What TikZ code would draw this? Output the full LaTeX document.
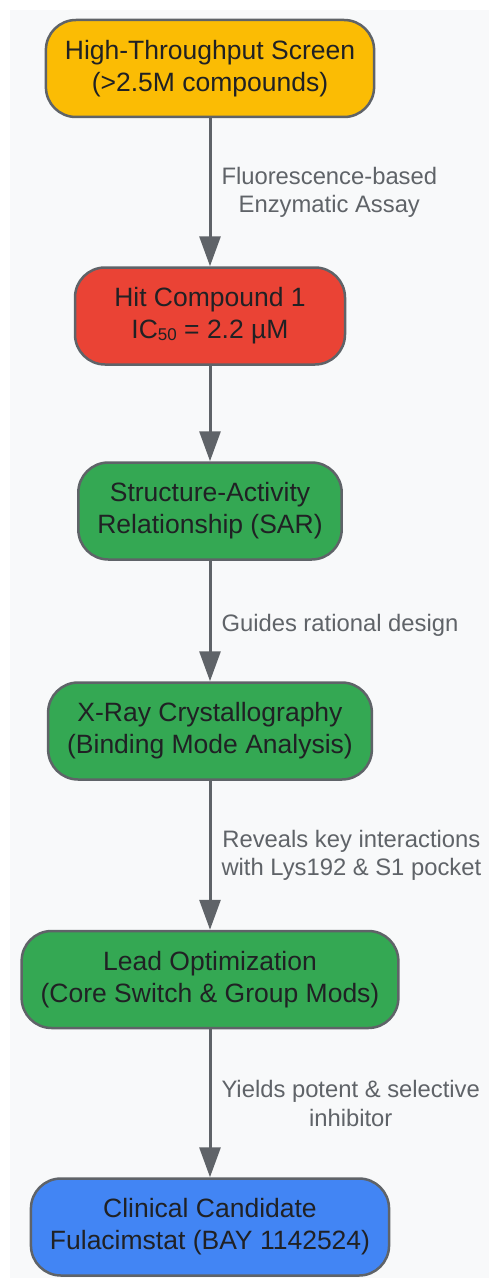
\documentclass[tikz,border=0pt]{standalone}
\usepackage{fontspec}
\setmainfont{Liberation Sans}
\usetikzlibrary{arrows.meta}

\definecolor{sheet}{HTML}{F8F9FA}
\definecolor{edge grey}{HTML}{5F6368}
\definecolor{ink}{HTML}{202124}
\definecolor{screen yellow}{HTML}{FBBC04}
\definecolor{hit red}{HTML}{EA4335}
\definecolor{design green}{HTML}{34A853}
\definecolor{candidate blue}{HTML}{4285F4}

\tikzset{stage/.style={draw=edge grey, line width=2.5pt, rounded corners=30pt,
        minimum height=97pt, inner xsep=19pt, inner ysep=0pt, align=center,
        text=ink, font=\fontsize{26.5}{32}\selectfont,
        execute at begin node={\rule{0pt}{30pt}}},
    screen stage/.style={stage, fill=screen yellow},
    hit stage/.style={stage, fill=hit red, minimum width=270pt},
    design stage/.style={stage, fill=design green},
    candidate stage/.style={stage, fill=candidate blue},
    flow arrow/.style={draw=edge grey, line width=3pt,
        -{Triangle[length=30pt, width=21pt, fill=edge grey]}},
    arrow label/.style={anchor=west, xshift=10pt, inner sep=0pt, align=center,
        text=edge grey, font=\fontsize{23.8}{28.5}\selectfont,
        execute at begin node={\rule{0pt}{26pt}}},
}

\begin{document}
\begin{tikzpicture}[x=1pt, y=-1pt]

	% page and sheet
	\useasboundingbox (0, 0) rectangle (489, 1279);
	\fill[sheet] (10, 10) rectangle (489, 1278);

	% stages
	\node[screen stage] (screen) at (210, 68.5) {High-Throughput Screen\\(>2.5M compounds)};
	\node[hit stage] (hit) at (210, 316) {Hit Compound 1\\IC\raisebox{-0.15ex}{\fontsize{17}{17}\selectfont 50} = 2.2 µM};
	\node[design stage] (sar) at (210, 511) {Structure-Activity\\Relationship (SAR)};
	\node[design stage] (xray) at (210, 731) {X-Ray Crystallography\\(Binding Mode Analysis)};
	\node[design stage] (lead) at (210, 979.5) {Lead Optimization\\(Core Switch \& Group Mods)};
	\node[candidate stage] (candidate) at (210, 1227) {Clinical Candidate\\Fulacimstat (BAY 1142524)};

	% connectors
	\draw[flow arrow] (screen) -- (hit)
		node[midway, arrow label] {Fluorescence-based\\Enzymatic Assay};
	\draw[flow arrow] (hit) -- (sar);
	\draw[flow arrow] (sar) -- (xray)
		node[midway, arrow label] {Guides rational design};
	\draw[flow arrow] (xray) -- (lead)
		node[midway, arrow label] {Reveals key interactions\\with Lys192 \& S1 pocket};
	\draw[flow arrow] (lead) -- (candidate)
		node[midway, arrow label] {Yields potent \& selective\\inhibitor};
\end{tikzpicture}
\end{document}
